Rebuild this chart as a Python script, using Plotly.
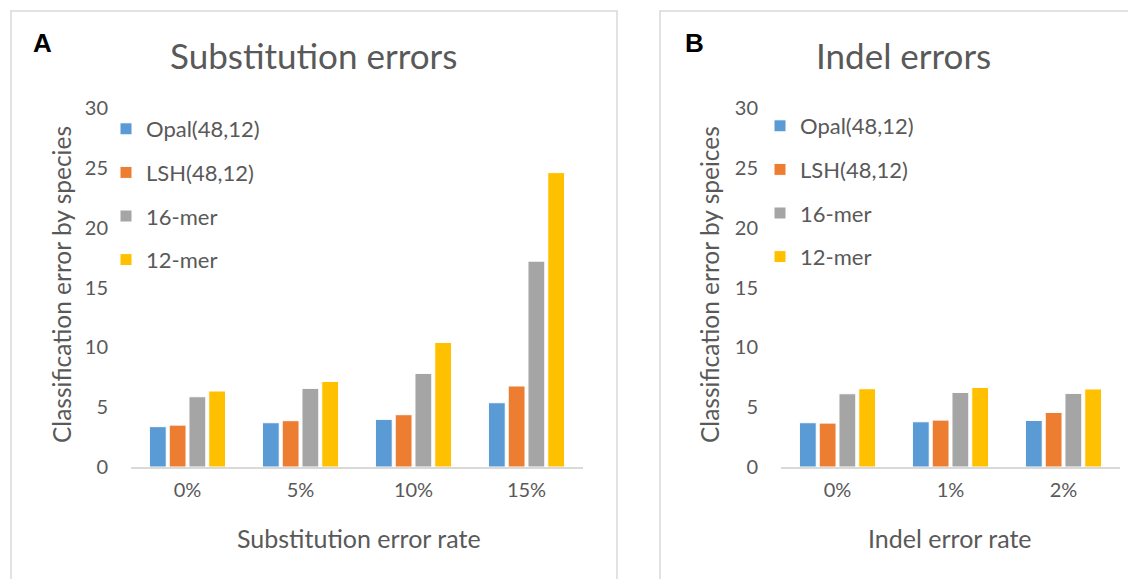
import plotly.graph_objects as go

W, H = 1136, 579
OFF = 8  # default body margin of the page

series = ["Opal(48,12)", "LSH(48,12)", "16-mer", "12-mer"]
colors = ["#5B9BD5", "#ED7D31", "#A5A5A5", "#FFC000"]

sub_rates = ["0%", "5%", "10%", "15%"]
sub_opal = [3.37, 3.7, 3.98, 5.37]
sub_lsh = [3.5, 3.87, 4.37, 6.77]
sub_16mer = [5.87, 6.57, 7.82, 17.2]
sub_12mer = [6.35, 7.15, 10.41, 24.6]

indel_rates = ["0%", "1%", "2%"]
indel_opal = [3.7, 3.78, 3.89]
indel_lsh = [3.67, 3.92, 4.56]
indel_16mer = [6.12, 6.23, 6.15]
indel_12mer = [6.54, 6.65, 6.52]

y_ticks = [0, 5, 10, 15, 20, 25, 30]

TXT = "#595959"
FONT = "Lato"


def px_x(v):
    return (v - OFF) / W


def px_y(v):
    return 1 - (v - OFF) / H


fig = go.Figure()

sub_vals = [sub_opal, sub_lsh, sub_16mer, sub_12mer]
indel_vals = [indel_opal, indel_lsh, indel_16mer, indel_12mer]

for i, name in enumerate(series):
    fig.add_trace(go.Bar(
        x=sub_rates, y=sub_vals[i], name=name,
        marker=dict(color=colors[i], line=dict(color="white", width=1)),
        xaxis="x", yaxis="y", legend="legend", legendgroup=f"a{i}",
    ))
for i, name in enumerate(series):
    fig.add_trace(go.Bar(
        x=indel_rates, y=indel_vals[i], name=name,
        marker=dict(color=colors[i], line=dict(color="white", width=1)),
        xaxis="x2", yaxis="y2", legend="legend2", legendgroup=f"b{i}",
    ))

axis_x = dict(showline=True, linecolor="#D9D9D9", linewidth=2, showgrid=False,
              ticks="", tickfont=dict(size=20, color=TXT, family=FONT),
              ticklabelstandoff=4, fixedrange=True)
axis_y = dict(range=[0, 30], tickvals=y_ticks, showgrid=False, zeroline=False,
              showline=False, ticks="", tickfont=dict(size=20, color=TXT, family=FONT),
              ticklabelstandoff=22)

ydom = [px_y(467), px_y(108)]
legend_style = dict(font=dict(size=22, color=TXT, family=FONT), bgcolor="rgba(0,0,0,0)",
                    tracegroupgap=12, xanchor="left", yanchor="top", itemwidth=30)

fig.update_layout(
    width=W, height=H, autosize=False,
    margin=dict(l=0, r=0, t=0, b=0, pad=0, autoexpand=False),
    paper_bgcolor="white", plot_bgcolor="white",
    barmode="group", bargap=0.30, bargroupgap=0.15,
    font=dict(family=FONT, color=TXT),
    xaxis=dict(domain=[px_x(131), px_x(583)], anchor="y", **axis_x),
    yaxis=dict(domain=ydom, anchor="x", **axis_y),
    xaxis2=dict(domain=[px_x(781), px_x(1120)], anchor="y2", **axis_x),
    yaxis2=dict(domain=ydom, anchor="x2", **axis_y),
    legend=dict(x=px_x(106), y=px_y(108), **legend_style),
    legend2=dict(x=px_x(760), y=px_y(105), **legend_style),
    showlegend=True,
)

# panel frames
fig.add_shape(type="rect", xref="paper", yref="paper", x0=px_x(11), x1=px_x(617),
              y0=-0.1, y1=px_y(11), line=dict(color="#D9D9D9", width=1.5))
fig.add_shape(type="rect", xref="paper", yref="paper", x0=px_x(660), x1=1.1,
              y0=-0.1, y1=px_y(11), line=dict(color="#D9D9D9", width=1.5))

ann = [
    dict(text="Substitution errors", x=313, y=55, size=35),
    dict(text="Indel errors", x=904, y=55, size=35),
    dict(text="Substitution error rate", x=359, y=538, size=25),
    dict(text="Indel error rate", x=950, y=538, size=25),
]
for a in ann:
    fig.add_annotation(text=a["text"], x=px_x(a["x"]), y=px_y(a["y"]), xref="paper", yref="paper",
                       showarrow=False, xanchor="center", yanchor="middle",
                       font=dict(size=a["size"], color=TXT, family=FONT))

for txt, xc in [("Classification error by species", 61), ("Classification error by speices", 709)]:
    fig.add_annotation(text=txt, x=px_x(xc), y=px_y(285), xref="paper", yref="paper",
                       showarrow=False, textangle=-90, xanchor="center", yanchor="middle",
                       font=dict(size=24.5, color=TXT, family=FONT))

for txt, xc in [("<b>A</b>", 42), ("<b>B</b>", 694)]:
    fig.add_annotation(text=txt, x=px_x(xc), y=px_y(43), xref="paper", yref="paper",
                       showarrow=False, xanchor="center", yanchor="middle",
                       font=dict(size=26, color="black", family="Liberation Sans"))

fig.write_html("out.html")
